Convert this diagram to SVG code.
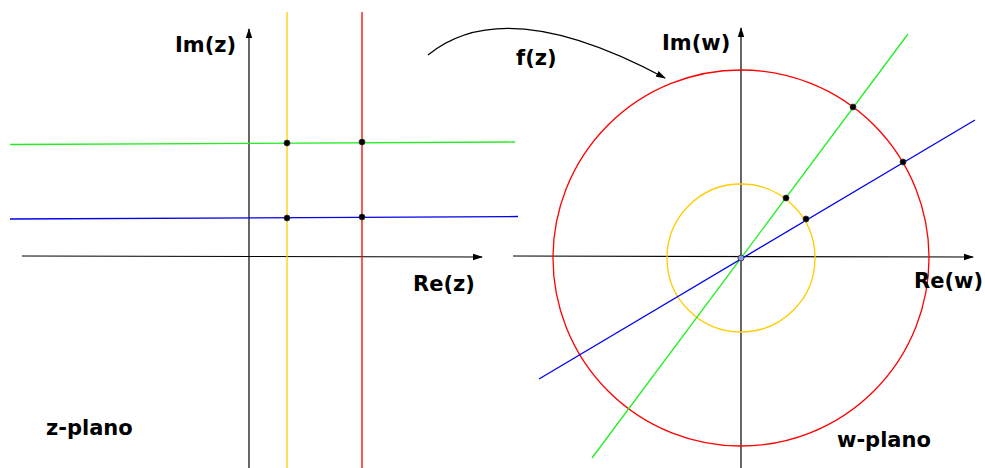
<svg xmlns="http://www.w3.org/2000/svg" width="985" height="468" viewBox="0 0 985 468">
<style>
.ax{stroke:#000;stroke-width:1.2;fill:none}
.lbl{font-family:"DejaVu Sans",sans-serif;font-weight:bold;font-size:21px;fill:#000}
.dot{fill:#000;stroke:#333;stroke-width:0.8}
.y{stroke:#ffcc00;stroke-width:1.3;fill:none}
.r{stroke:#ff0000;stroke-width:1.3;fill:none}
.g{stroke:#22ee22;stroke-width:1.3;fill:none}
.b{stroke:#0000ee;stroke-width:1.3;fill:none}
</style>
<defs>
<marker id="ah" markerWidth="10" markerHeight="8" refX="9" refY="4" orient="auto" markerUnits="userSpaceOnUse">
<path d="M0,0.8 L10,4 L0,7.2 Z" fill="#000"/>
</marker>
</defs>
<rect width="985" height="468" fill="#fff"/>
<g id="connectors">
<line class="ax" x1="22" y1="256" x2="482" y2="257" marker-end="url(#ah)"/>
<line class="ax" x1="249" y1="468" x2="249" y2="29" marker-end="url(#ah)"/>
<line class="y" x1="287" y1="12" x2="287" y2="468"/>
<line class="r" x1="362" y1="12" x2="362" y2="468"/>
<line class="g" x1="10" y1="144.5" x2="515" y2="142"/>
<line class="b" x1="10" y1="219" x2="518" y2="216.5"/>
<line class="ax" x1="513" y1="256" x2="973" y2="257" marker-end="url(#ah)"/>
<line class="ax" x1="741" y1="468" x2="741" y2="28" marker-end="url(#ah)"/>
<circle class="r" cx="741" cy="258" r="188"/>
<circle class="y" cx="741" cy="258" r="74"/>
<line class="g" x1="592" y1="458" x2="908" y2="34"/>
<line class="b" x1="539" y1="379" x2="975" y2="120"/>
<path class="ax" d="M428,55 Q505,-8 665,78" marker-end="url(#ah)"/>
</g>
<g id="z-dots">
<circle class="dot" cx="287" cy="143" r="3"/>
<circle class="dot" cx="362" cy="142" r="3"/>
<circle class="dot" cx="287" cy="218" r="3"/>
<circle class="dot" cx="362" cy="217" r="3"/>
</g>
<g id="w-dots">
<circle class="dot" cx="786" cy="198" r="3"/>
<circle class="dot" cx="806" cy="219" r="3"/>
<circle class="dot" cx="853" cy="107" r="3"/>
<circle class="dot" cx="903" cy="162" r="3"/>
<circle cx="741" cy="258" r="3" fill="#8899ee" stroke="#333" stroke-width="0.8"/>
</g>
<g id="labels">
<text class="lbl" x="175" y="52">Im(z)</text>
<text class="lbl" x="413" y="291">Re(z)</text>
<text class="lbl" x="516" y="65">f(z)</text>
<text class="lbl" x="662" y="50">Im(w)</text>
<text class="lbl" x="914" y="288">Re(w)</text>
<text class="lbl" x="46" y="435">z-plano</text>
<text class="lbl" x="837" y="447">w-plano</text>
</g>
</svg>
